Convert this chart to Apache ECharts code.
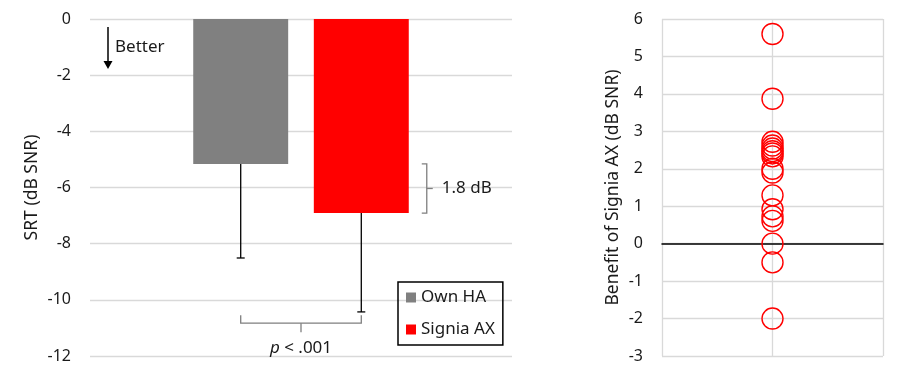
<!DOCTYPE html>
<html>
<head>
<meta charset="utf-8">
<script src="https://cdn.jsdelivr.net/npm/echarts@6/dist/echarts.min.js"></script>
<style>
  html, body { margin: 0; padding: 0; background: #fff; }
  #main { width: 900px; height: 376px; }
</style>
</head>
<body>
<div id="main"></div>
<script>
// SRT means and lower error bar ends (dB SNR)
const seriesNames = ['Own HA', 'Signia AX']
const srtMean = [-5.16, -6.91]
const srtErrEnd = [-8.51, -10.43]
const barColors = ['#808080', '#ff0000']

// individual benefit of Signia AX (dB SNR)
const benefit = [5.6, 3.87, 2.72, 2.62, 2.54, 2.47, 2.41, 2.33, 2.0, 1.9, 1.29, 0.92, 0.73, 0.61, 0.0, -0.5, -2.0]

const leftTicks = { min: -12, max: 0, interval: 2 }
const rightTicks = { min: -3, max: 6, interval: 1 }

const BAR_W = 0.225
const BAR_GAP = 0.27
const FONT = '"Noto Sans", "Open Sans", sans-serif'
const TXT = '#1a1a1a'

const myChart = echarts.init(document.getElementById('main'))

function errRender(side) {
    return function(params, api) {
        const base = api.coord([api.value(0), api.value(1)])
        const end = api.coord([api.value(0), api.value(2)])
        const band = api.size([1, 0])[0]
        const bw = band * BAR_W
        const x = base[0] + side * bw * (1 + BAR_GAP) / 2
        const st = { stroke: '#000', lineWidth: 1.3 }
        return {
            type: 'group',
            children: [
                { type: 'line', shape: { x1: x, y1: base[1], x2: x, y2: end[1] }, style: st },
                { type: 'line', shape: { x1: x - 4, y1: end[1], x2: x + 4, y2: end[1] }, style: st }
            ]
        }
    }
}

const barSeries = seriesNames.map((name, i) => ({
    name: name,
    type: 'bar',
    xAxisIndex: 0,
    yAxisIndex: 0,
    barWidth: (BAR_W * 100) + '%',
    barGap: (BAR_GAP * 100) + '%',
    itemStyle: { color: barColors[i] },
    data: [srtMean[i]],
    z: 2
}))

const errSeries = seriesNames.map((name, i) => ({
    type: 'custom',
    xAxisIndex: 0,
    yAxisIndex: 0,
    renderItem: errRender(i === 0 ? -1 : 1),
    data: [[0, srtMean[i], srtErrEnd[i]]],
    silent: true,
    z: 3
}))

const option = {
    animation: false,
    textStyle: { fontFamily: FONT },
    legend: {
        data: seriesNames,
        orient: 'vertical',
        left: 398,
        top: 282,
        padding: [7, 8, 7, 8],
        itemGap: 15,
        itemWidth: 10,
        itemHeight: 10,
        icon: 'rect',
        borderColor: '#000',
        borderWidth: 1.5,
        textStyle: { fontSize: 17, color: TXT, fontFamily: FONT }
    },
    grid: [
        { left: 90, right: 388, top: 19, bottom: 20 },
        { left: 662, right: 17, top: 19, bottom: 20 }
    ],
    xAxis: [
        {
            type: 'category',
            gridIndex: 0,
            data: ['SRT'],
            axisLine: { show: false },
            axisTick: { show: false },
            axisLabel: { show: false }
        },
        {
            type: 'value',
            gridIndex: 1,
            min: 0, max: 2, interval: 1,
            axisLine: { show: true, onZero: true, lineStyle: { color: '#000', width: 1.5 } },
            axisTick: { show: false },
            axisLabel: { show: false },
            splitLine: { show: true, lineStyle: { color: '#d9d9d9', width: 1.3 } }
        }
    ],
    yAxis: [
        {
            type: 'value',
            gridIndex: 0,
            min: leftTicks.min, max: leftTicks.max, interval: leftTicks.interval,
            name: 'SRT (dB SNR)',
            nameLocation: 'middle',
            nameGap: 49,
            nameTextStyle: { fontSize: 17.5, color: TXT, fontFamily: FONT },
            axisLine: { show: false },
            axisTick: { show: false },
            axisLabel: { fontSize: 16, color: TXT, margin: 19, fontFamily: FONT },
            splitLine: { lineStyle: { color: '#d9d9d9', width: 1.3 } }
        },
        {
            type: 'value',
            gridIndex: 1,
            min: rightTicks.min, max: rightTicks.max, interval: rightTicks.interval,
            name: 'Benefit of Signia AX (dB SNR)',
            nameLocation: 'middle',
            nameGap: 40,
            nameTextStyle: { fontSize: 17.5, color: TXT, fontFamily: FONT },
            axisLine: { show: false },
            axisTick: { show: false },
            axisLabel: { fontSize: 16, color: TXT, margin: 19, fontFamily: FONT },
            splitLine: { lineStyle: { color: '#d9d9d9', width: 1.3 } }
        }
    ],
    series: barSeries.concat(errSeries, [{
        type: 'scatter',
        xAxisIndex: 1,
        yAxisIndex: 1,
        symbol: 'circle',
        symbolSize: 21,
        itemStyle: { color: 'rgba(255,255,255,0)', borderColor: '#ff0000', borderWidth: 1.4, opacity: 1 },
        data: benefit.map(v => [1, v]),
        z: 3
    }])
}

myChart.setOption(option)

// annotations placed from the data through the axes
const px = v => myChart.convertToPixel({ xAxisIndex: 0, yAxisIndex: 0 }, [0, v])
const band = px(0)[0]
const gridW = 900 - 388 - 90
const bw = gridW * BAR_W
const off = bw * (1 + BAR_GAP) / 2
const grayX = band - off
const redX = band + off
const yGray = px(srtMean[0])[1]
const yRed = px(srtMean[1])[1]
const bx = redX + bw / 2 + 18
const midY = (yGray + yRed) / 2
const diff = (srtMean[0] - srtMean[1]).toFixed(1)
const pY = px(-10.83)[1]
const bst = { stroke: '#7f7f7f', lineWidth: 1.3, fill: null }

myChart.setOption({
    graphic: [
        // "Better" arrow
        { type: 'line', shape: { x1: 108, y1: 27, x2: 108, y2: 62 }, style: { stroke: '#000', lineWidth: 1.5 } },
        { type: 'polygon', shape: { points: [[103.5, 61], [112.5, 61], [108, 69]] }, style: { fill: '#000' } },
        { type: 'text', x: 115, y: 47, style: { text: 'Better', font: '17px ' + FONT, fill: TXT, verticalAlign: 'middle' } },
        // difference bracket
        { type: 'polyline', shape: { points: [[bx - 5, yGray], [bx, yGray], [bx, yRed], [bx - 5, yRed]] }, style: bst },
        { type: 'line', shape: { x1: bx, y1: midY, x2: bx + 6, y2: midY }, style: bst },
        { type: 'text', x: bx + 15, y: midY, style: { text: diff + ' dB', font: '17px ' + FONT, fill: TXT, verticalAlign: 'middle' } },
        // significance bracket
        { type: 'polyline', shape: { points: [[grayX, pY - 8], [grayX, pY], [redX, pY], [redX, pY - 8]] }, style: bst },
        { type: 'line', shape: { x1: (grayX + redX) / 2, y1: pY, x2: (grayX + redX) / 2, y2: pY + 9 }, style: bst },
        {
            type: 'text', x: (grayX + redX) / 2, y: pY + 25,
            style: {
                text: '{i|p} < .001',
                align: 'center', verticalAlign: 'middle',
                font: '17px ' + FONT, fill: TXT,
                rich: { i: { fontStyle: 'italic', fontSize: 17, fontFamily: FONT, fill: TXT } }
            }
        }
    ]
})
</script>
</body>
</html>
